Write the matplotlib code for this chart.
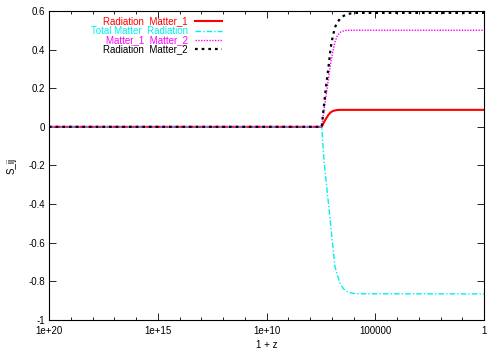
import matplotlib
matplotlib.use("Agg")
import matplotlib.pyplot as plt
from matplotlib.ticker import FixedLocator, FuncFormatter
from matplotlib.lines import Line2D

# 1 + z sample points
one_plus_z = [1e20, 2.9e7, 2.24e7, 1.78e7, 1.41e7, 1.12e7, 8.9e6, 7.1e6,
              5.6e6, 4.0e6, 2.8e6, 2.0e6, 1.26e6, 7.9e5, 1.0]

rad_matter1 = [0, 0, 0.025, 0.045, 0.063, 0.075, 0.082, 0.085,
               0.087, 0.088, 0.088, 0.088, 0.088, 0.088, 0.088]
total_matter_rad = [0, 0, -0.18, -0.29, -0.40, -0.51, -0.62, -0.724,
                    -0.765, -0.815, -0.84, -0.853, -0.86, -0.864, -0.865]
matter1_matter2 = [0, 0, 0.09, 0.17, 0.25, 0.33, 0.39, 0.44,
                   0.47, 0.49, 0.497, 0.5, 0.5, 0.5, 0.5]
rad_matter2 = [0, 0, 0.12, 0.22, 0.31, 0.41, 0.47, 0.515,
               0.54, 0.562, 0.575, 0.583, 0.588, 0.59, 0.59]

labels = ["Radiation  Matter_1", "Total Matter  Radiation",
          "Matter_1  Matter_2", "Radiation  Matter_2"]
series = [rad_matter1, total_matter_rad, matter1_matter2, rad_matter2]
colors = ["#ff0000", "#00f0f0", "#ff00ff", "#000000"]
styles = [dict(ls="-", lw=1.5),
          dict(ls=(0, (4, 1.5, 1, 1.5)), lw=1.0),
          dict(ls=(0, (1, 1)), lw=1.0),
          dict(ls=(0, (1.2, 1.8)), lw=1.6)]

xticks = [1e20, 1e15, 1e10, 1e5, 1]
yticks = [-1, -0.8, -0.6, -0.4, -0.2, 0, 0.2, 0.4, 0.6]

plt.rcParams['font.family'] = ['Liberation Sans', 'DejaVu Sans']
fig = plt.figure(figsize=(5, 3.5), dpi=100)
ax = fig.add_axes([0.098, 0.0857, 0.87, 0.883])

for y, c, st in zip(series, colors, styles):
    ax.plot(one_plus_z, y, color=c, **st)

ax.set_xscale("log")
ax.set_xlim(1e20, 1)
ax.set_ylim(-1, 0.6)
ax.xaxis.set_major_locator(FixedLocator(xticks))
ax.xaxis.set_minor_locator(FixedLocator([10.0**k for k in range(0, 21)]))
ax.xaxis.set_major_formatter(FuncFormatter(lambda v, p: "%g" % v))
ax.xaxis.set_minor_formatter(FuncFormatter(lambda v, p: ""))
ax.set_yticks(yticks)
ax.yaxis.set_major_formatter(FuncFormatter(lambda v, p: "%g" % round(v, 2)))
ax.tick_params(which="both", direction="in", top=True, right=True,
               labelsize=7, width=0.6)
ax.tick_params(which="major", length=5, pad=3)
ax.tick_params(axis="x", which="major", pad=4.5)
ax.tick_params(which="minor", length=2.5)
for s in ax.spines.values():
    s.set_linewidth(0.8)

ax.set_xlabel("1 + z", fontsize=7, labelpad=3)
ax.set_ylabel("S_ij", fontsize=7, labelpad=8)

# gnuplot-style legend: right-aligned text, line sample on the right
y0 = 0.967
dy = 0.0305
for i, (lab, c, st) in enumerate(zip(labels, colors, styles)):
    yy = y0 - i * dy
    ax.text(0.3195, yy, lab, transform=ax.transAxes, ha="right", va="center",
            fontsize=7, color=c)
    ax.add_line(Line2D([0.335, 0.397], [yy, yy], transform=ax.transAxes,
                       color=c, **st))

fig.savefig("out.png", dpi=100)
